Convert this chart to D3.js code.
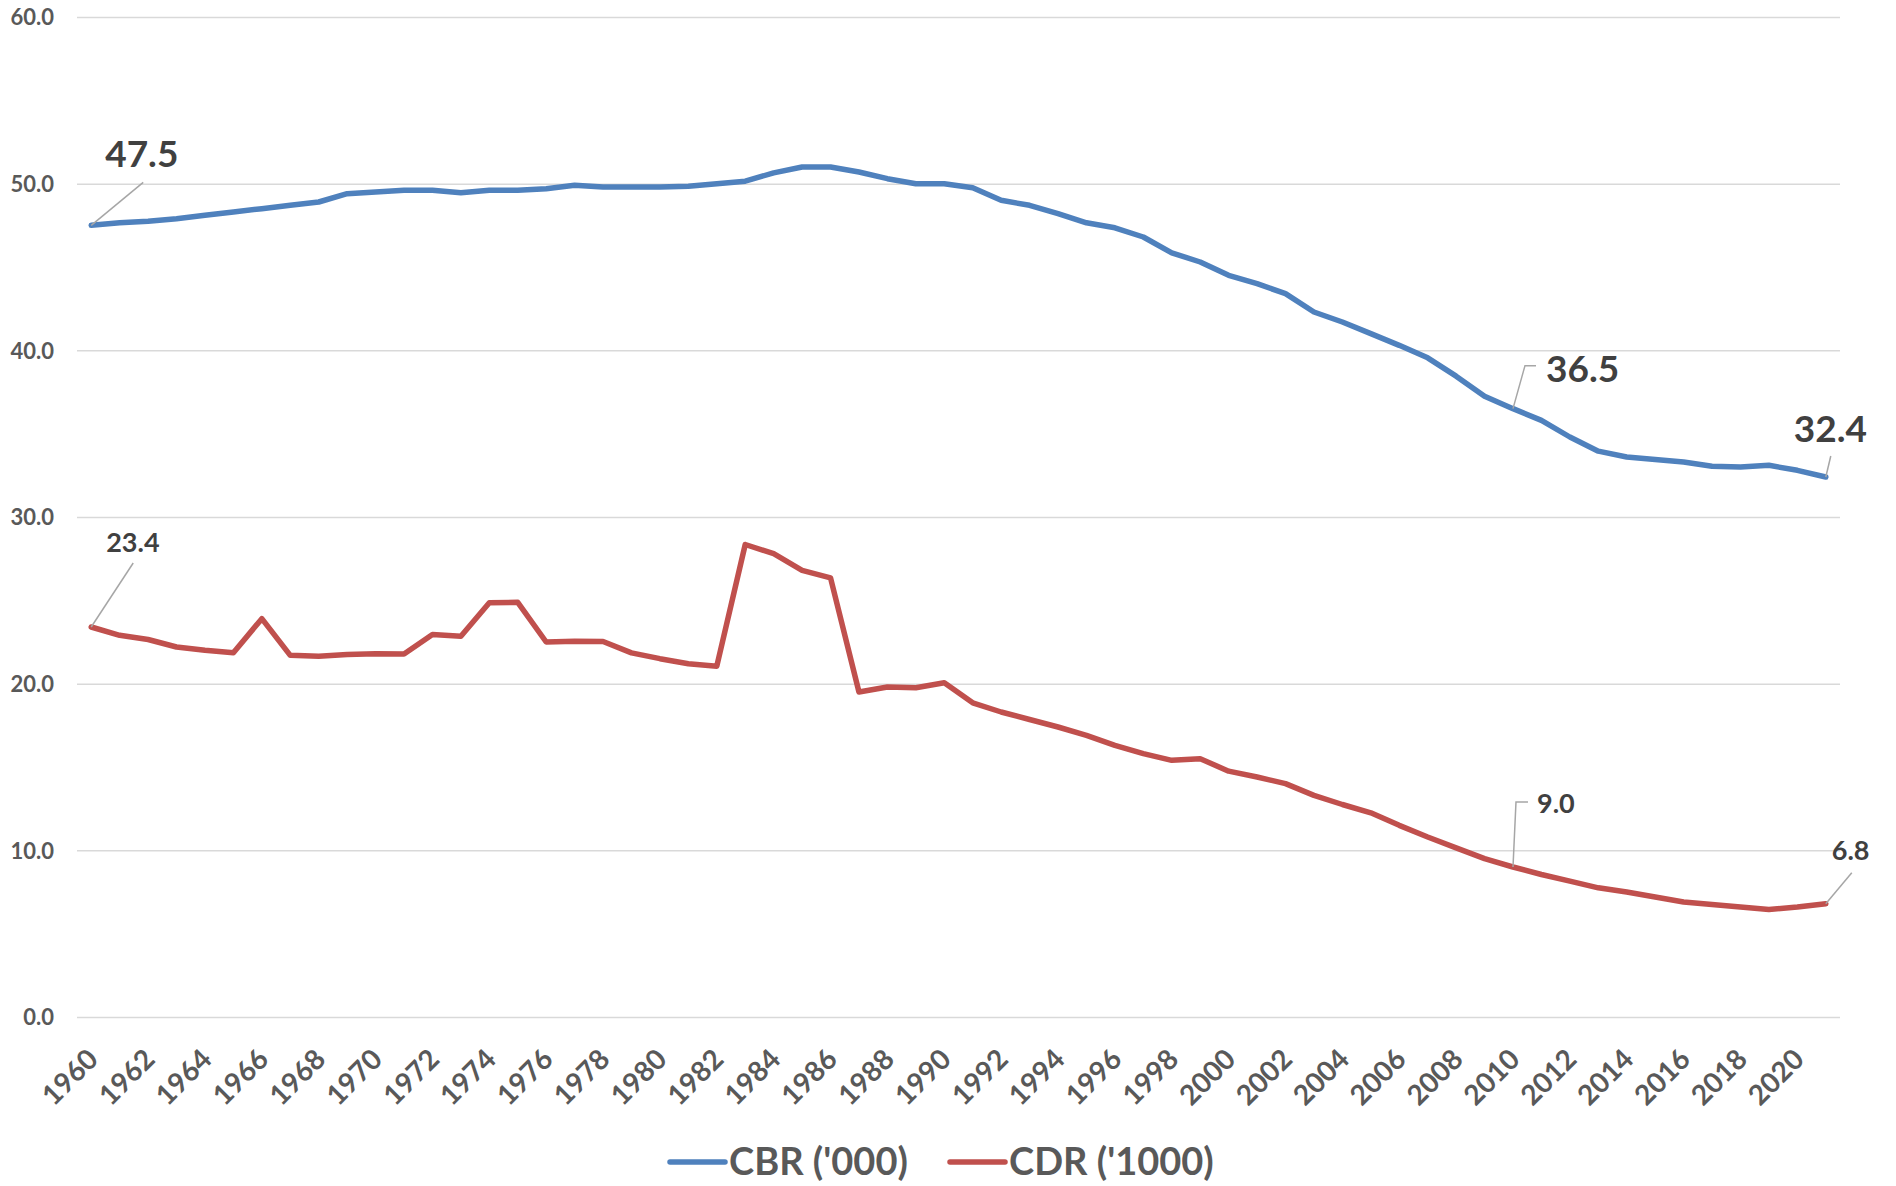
<!DOCTYPE html>
<html>
<head>
<meta charset="utf-8">
<script src="https://cdn.jsdelivr.net/npm/d3@7"></script>
<style>
  html, body { margin: 0; padding: 0; background: #fff; }
  svg { display: block; font-family: Lato, 'Open Sans', sans-serif; font-weight: bold; }
</style>
</head>
<body>
<script>
var years = d3.range(1960, 2022)
  , yTicks = [0, 10, 20, 30, 40, 50, 60]
  , xTickYears = d3.range(1960, 2022, 2)
  , seriesNames = ["CBR ('000)", "CDR ('1000)"]

// crude birth rate, per 1000
var cbr = [
  47.5, 47.65, 47.75, 47.9, 48.1, 48.3, 48.5, 48.7, 48.9, 49.4,
  49.5, 49.6, 49.6, 49.45, 49.6, 49.6, 49.7, 49.9, 49.8, 49.8,
  49.8, 49.85, 50.0, 50.15, 50.65, 51.0, 51.0, 50.7, 50.3, 50.0,
  50.0, 49.75, 49.0, 48.7, 48.2, 47.65, 47.35, 46.8, 45.85, 45.3,
  44.5, 44.0, 43.4, 42.3, 41.7, 41.0, 40.3, 39.55, 38.45, 37.25,
  36.5, 35.8, 34.8, 33.95, 33.6, 33.45, 33.3, 33.05, 33.0, 33.1,
  32.8, 32.4
]

// crude death rate, per 1000
var cdr = [
  23.4, 22.9, 22.65, 22.2, 22.0, 21.85, 23.9, 21.7, 21.65, 21.75,
  21.8, 21.78, 22.95, 22.85, 24.85, 24.88, 22.5, 22.55, 22.53, 21.85,
  21.5, 21.2, 21.05, 28.35, 27.8, 26.8, 26.35, 19.5, 19.8, 19.75,
  20.05, 18.85, 18.3, 17.85, 17.4, 16.9, 16.3, 15.8, 15.4, 15.5,
  14.75, 14.4, 14.0, 13.3, 12.75, 12.25, 11.5, 10.8, 10.15, 9.5,
  9.0, 8.55, 8.15, 7.75, 7.5, 7.2, 6.9, 6.75, 6.6, 6.45,
  6.6, 6.8
]

var colors = ['#4F81BD', '#C0504D']

// which points get a data label: [series, year]
var labelled = [
  [0, 1960], [0, 2010], [0, 2021],
  [1, 1960], [1, 2010], [1, 2021]
]

var W = 1896
  , H = 1186
  , plotL = 77
  , plotR = 1840
  , plotT = 17
  , plotB = 1017

var svg = d3.select('body')
  .append('svg')
  .attr('width', W)
  .attr('height', H)

var x = d3.scalePoint().domain(years).range([plotL, plotR]).padding(0.5)
  , y = d3.scaleLinear().domain([0, 60]).range([plotB, plotT])

// gridlines + y labels
var yAxis = d3.axisLeft(y)
  .tickValues(yTicks)
  .tickSize(-(plotR - plotL))
  .tickPadding(23)
  .tickFormat(d3.format('.1f'))

var gy = svg.append('g')
  .attr('transform', 'translate(' + plotL + ',0)')
  .call(yAxis)
gy.select('.domain').remove()
gy.selectAll('.tick line').attr('stroke', '#d9d9d9').attr('stroke-width', 1.5)
gy.selectAll('.tick text')
  .attr('fill', '#595959')
  .style('font-size', '22px')
  .style('font-family', 'Lato, sans-serif')
  .attr('dy', '0.36em')

// x labels, rotated
var xAxis = d3.axisBottom(x)
  .tickValues(xTickYears)
  .tickSize(0)

var gx = svg.append('g')
  .attr('transform', 'translate(0,' + plotB + ')')
  .call(xAxis)
gx.select('.domain').remove()
gx.selectAll('.tick text')
  .attr('fill', '#595959')
  .style('font-size', '28px')
  .style('font-family', 'Lato, sans-serif')
  .attr('text-anchor', 'end')
  .attr('dy', null)
  .attr('y', 0)
  .attr('transform', 'translate(8,44) rotate(-45)')

var line = d3.line()
  .x(function(d, i) { return x(years[i]) })
  .y(function(d) { return y(d) })

var all = [cbr, cdr]
svg.selectAll('path.series').data(all).enter()
  .append('path')
  .attr('class', 'series')
  .attr('fill', 'none')
  .attr('stroke', function(d, i) { return colors[i] })
  .attr('stroke-width', 5.5)
  .attr('stroke-linejoin', 'round')
  .attr('stroke-linecap', 'round')
  .attr('d', line)

// label offsets from the point: leader polyline + text anchor
var labelStyle = {
  '0-1960': { lead: [[52, -43]], tx: 14, ty: -58, size: 37 },
  '0-2010': { lead: [[12, -43], [23, -43]], tx: 33, ty: -27, size: 37 },
  '0-2021': { lead: [[5, -21]], tx: -32, ty: -35, size: 37 },
  '1-1960': { lead: [[42, -64]], tx: 15, ty: -75, size: 27 },
  '1-2010': { lead: [[3, -65], [15, -65]], tx: 24, ty: -54, size: 27 },
  '1-2021': { lead: [[26, -31]], tx: 6, ty: -44, size: 27 }
}

var lab = svg.append('g')
labelled.forEach(function(l) {
  var s = l[0]
    , yr = l[1]
    , v = all[s][years.indexOf(yr)]
    , px = x(yr)
    , py = y(v)
    , st = labelStyle[s + '-' + yr]
    , pts = [[px, py]].concat(st.lead.map(function(p) { return [px + p[0], py + p[1]] }))
  lab.append('path')
    .attr('d', d3.line()(pts))
    .attr('fill', 'none')
    .attr('stroke', '#a6a6a6')
    .attr('stroke-width', 1.5)
  lab.append('text')
    .attr('x', px + st.tx)
    .attr('y', py + st.ty)
    .attr('fill', '#404040')
    .style('font-size', st.size + 'px')
    .text(v.toFixed(1))
})

// legend
var legend = svg.append('g')
var legX = [670, 950]
seriesNames.forEach(function(n, i) {
  legend.append('line')
    .attr('x1', legX[i]).attr('x2', legX[i] + 55)
    .attr('y1', 1162).attr('y2', 1162)
    .attr('stroke', colors[i])
    .attr('stroke-width', 5.5)
    .attr('stroke-linecap', 'round')
  legend.append('text')
    .attr('x', legX[i] + 59)
    .attr('y', 1175)
    .attr('fill', '#595959')
    .style('font-size', '38px')
    .text(n)
})
</script>
</body>
</html>
